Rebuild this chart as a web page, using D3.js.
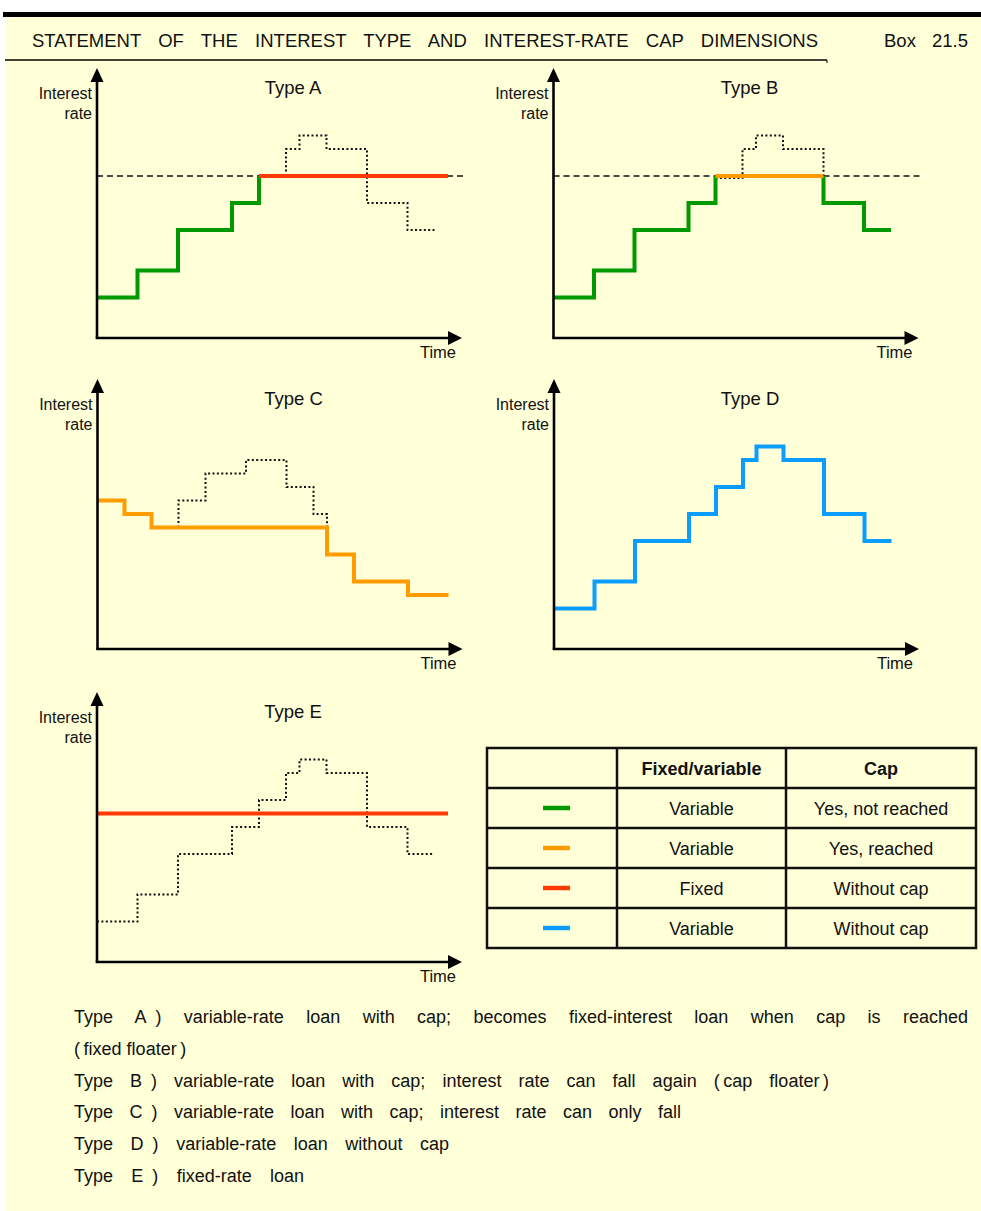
<!DOCTYPE html>
<html>
<head>
<meta charset="utf-8">
<script src="https://cdn.jsdelivr.net/npm/d3@7"></script>
<style>
  html, body { margin: 0; padding: 0; background: #ffffff; }
  svg { display: block; }
</style>
</head>
<body>
<svg id="chart" width="981" height="1211"></svg>
<script>
// ---------------- DATA ----------------
const headerTitle = "STATEMENT OF THE INTEREST TYPE AND INTEREST-RATE CAP DIMENSIONS";
const boxLabel = "Box 21.5";
const panelTitles = ["Type A", "Type B", "Type C", "Type D", "Type E"];
const yAxisLabel = ["Interest", "rate"];
const xAxisLabel = "Time";

// market (unconstrained) interest-rate path: step starts and levels
const marketTime = [0, 3, 6, 10, 12, 14, 15, 17, 20, 23, 25];
const marketRate = [3, 5, 8, 10, 12, 14, 15, 14, 10, 8, 8];
const capRate = 12;
const capEndTime = 27.2;

// Type A
const aGreenTime = [0, 3, 6, 10, 12];
const aGreenRate = [3, 5, 8, 10, 12];
const aRedTime = [12, 26];
const aRedRate = [12, 12];
const aDotTime = [14, 14, 15, 17, 20, 23, 25];
const aDotRate = [12, 14, 15, 14, 10, 8, 8];
// Type B
const bGreen1Time = [0, 3, 6, 10, 12];
const bGreen1Rate = [3, 5, 8, 10, 12];
const bOrangeTime = [12, 20];
const bOrangeRate = [12, 12];
const bGreen2Time = [20, 20, 23, 25];
const bGreen2Rate = [12, 10, 8, 8];
const bDotTime = [12, 14, 15, 17, 20];
const bDotRate = [12, 14, 15, 14, 12];
// Type C
const cOrangeTime = [0, 2, 4, 17, 19, 23, 26];
const cOrangeRate = [11, 10, 9, 7, 5, 4, 4];
const cDotTime = [6, 6, 8, 11, 14, 16, 17];
const cDotRate = [9, 11, 13, 14, 12, 10, 9];
// Type E
const eRedTime = [0, 26];
const eRedRate = [11, 11];

// Legend table
const legendHeader = ["", "Fixed/variable", "Cap"];
const legendKinds = ["Variable", "Variable", "Fixed", "Variable"];
const legendCaps = ["Yes, not reached", "Yes, reached", "Without cap", "Without cap"];
const legendKeys = ["green", "orange", "red", "blue"];

// Notes
const noteLines = [
  "Type A\u2002) variable-rate loan with cap; becomes fixed-interest loan when cap is reached",
  "(\u2009fixed floater\u2009)",
  "Type B\u2002) variable-rate loan with cap; interest rate can fall again (\u2009cap floater\u2009)",
  "Type C\u2002) variable-rate loan with cap; interest rate can only fall",
  "Type D\u2002) variable-rate loan without cap",
  "Type E\u2002) fixed-rate loan"
];

// ---------------- STYLE / LAYOUT ----------------
const colors = { green: "#009a00", orange: "#ff9c00", red: "#ff3a00", blue: "#0a9cff" };
const bg = "#ffffd8";
const font = "'Liberation Sans', Arial, sans-serif";
const origins = [[97, 338], [553.5, 338], [97.5, 649], [554, 649], [97, 962]];
const xLen = 365, yLen = 270;
const noteTargets = [968, 177, 829, 681, 449, 304];

const svg = d3.select("#chart");

// page background
svg.append("rect").attr("x", 5).attr("y", 16).attr("width", 976).attr("height", 1195).attr("fill", bg);
svg.append("rect").attr("x", 3).attr("y", 12).attr("width", 978).attr("height", 5).attr("fill", "#000");
svg.append("line").attr("x1", 5).attr("x2", 827).attr("y1", 60).attr("y2", 60)
  .attr("stroke", "#000").attr("stroke-width", 1.5);
svg.append("line").attr("x1", 827).attr("x2", 827).attr("y1", 60).attr("y2", 63)
  .attr("stroke", "#000").attr("stroke-width", 1);

function spreadText(sel, targetWidth) {
  const node = sel.node();
  const txt = sel.text();
  const n = (txt.match(/ /g) || []).length;
  const w = node.getComputedTextLength();
  if (n > 0) sel.attr("word-spacing", Math.max(0, (targetWidth - w) / n));
}

const hdr = svg.append("text").attr("x", 32).attr("y", 47)
  .attr("font-family", font).attr("font-size", 18.5).attr("fill", "#111").text(headerTitle);
spreadText(hdr, 818 - 32);
const box = svg.append("text").attr("x", 884).attr("y", 47)
  .attr("font-family", font).attr("font-size", 18.5).attr("fill", "#111").text(boxLabel);
spreadText(box, 968 - 884);

// ---------------- PANELS ----------------
function zip(t, r) { return t.map((d, i) => ({ t: d, r: r[i] })); }

const panelSeries = [
  [
    { data: zip([0, capEndTime], [capRate, capRate]), kind: "dash" },
    { data: zip(aDotTime, aDotRate), kind: "dot" },
    { data: zip(aGreenTime, aGreenRate), kind: "green" },
    { data: zip(aRedTime, aRedRate), kind: "red" }
  ],
  [
    { data: zip([0, capEndTime], [capRate, capRate]), kind: "dash" },
    { data: zip(bDotTime, bDotRate), kind: "dot", offset: 2 },
    { data: zip(bGreen1Time, bGreen1Rate), kind: "green" },
    { data: zip(bGreen2Time, bGreen2Rate), kind: "green" },
    { data: zip(bOrangeTime, bOrangeRate), kind: "orange" }
  ],
  [
    { data: zip(cDotTime, cDotRate), kind: "dot" },
    { data: zip(cOrangeTime, cOrangeRate), kind: "orange" }
  ],
  [
    { data: zip(marketTime, marketRate), kind: "blue" }
  ],
  [
    { data: zip(marketTime, marketRate), kind: "dot" },
    { data: zip(eRedTime, eRedRate), kind: "red" }
  ]
];

panelTitles.forEach((title, i) => {
  const [ox, oy] = origins[i];
  const x = d3.scaleLinear().domain([0, 27]).range([ox, ox + 27 * 13.5]);
  const y = d3.scaleLinear().domain([0, 20]).range([oy, oy - 20 * 13.5]);
  const g = svg.append("g");

  panelSeries[i].forEach(s => {
    const off = s.offset || 0;
    const line = d3.line().x(d => x(d.t)).y(d => y(d.r) + (d.r === capRate ? off : 0))
      .curve(d3.curveStepAfter);
    const p = g.append("path").attr("d", line(s.data)).attr("fill", "none");
    if (s.kind === "dash") {
      p.attr("stroke", "#111").attr("stroke-width", 1.5).attr("stroke-dasharray", "6,4");
    } else if (s.kind === "dot") {
      p.attr("stroke", "#111").attr("stroke-width", 2).attr("stroke-dasharray", "2,2.4");
    } else {
      p.attr("stroke", colors[s.kind]).attr("stroke-width", 4)
        .attr("stroke-linejoin", "miter").attr("stroke-linecap", "butt");
    }
  });

  // axes with arrowheads
  g.append("path").attr("d", `M${ox},${oy} L${ox},${oy - yLen + 12}`)
    .attr("stroke", "#000").attr("stroke-width", 2.6).attr("fill", "none");
  g.append("path").attr("d", `M${ox - 1.3},${oy} L${ox + xLen - 12},${oy}`)
    .attr("stroke", "#000").attr("stroke-width", 2.6).attr("fill", "none");
  g.append("path").attr("d", `M${ox},${oy - yLen} L${ox - 6.5},${oy - yLen + 14} L${ox + 6.5},${oy - yLen + 14} Z`)
    .attr("fill", "#000");
  g.append("path").attr("d", `M${ox + xLen},${oy} L${ox + xLen - 14},${oy - 7} L${ox + xLen - 14},${oy + 7} Z`)
    .attr("fill", "#000");

  g.append("text").attr("x", ox + 196).attr("y", oy - 244).attr("text-anchor", "middle")
    .attr("font-family", font).attr("font-size", 18.5).attr("fill", "#111").text(title);
  yAxisLabel.forEach((t, k) => {
    g.append("text").attr("x", ox - 5).attr("y", oy - 239 + k * 20).attr("text-anchor", "end")
      .attr("font-family", font).attr("font-size", 16).attr("fill", "#111").text(t);
  });
  g.append("text").attr("x", ox + 359).attr("y", oy + 20).attr("text-anchor", "end")
    .attr("font-family", font).attr("font-size", 16.5).attr("fill", "#111").text(xAxisLabel);
});

// ---------------- LEGEND TABLE ----------------
const tbl = svg.append("g");
const colX = [487, 617, 786, 976];
const rowY = [748, 788, 828, 868, 908, 948];
tbl.append("rect").attr("x", colX[0]).attr("y", rowY[0]).attr("width", colX[3] - colX[0])
  .attr("height", rowY[5] - rowY[0]).attr("fill", "none").attr("stroke", "#111").attr("stroke-width", 2.5);
[1, 2].forEach(c => tbl.append("line").attr("x1", colX[c]).attr("x2", colX[c]).attr("y1", rowY[0]).attr("y2", rowY[5])
  .attr("stroke", "#111").attr("stroke-width", 2.5));
[1, 2, 3, 4].forEach(r => tbl.append("line").attr("x1", colX[0]).attr("x2", colX[3]).attr("y1", rowY[r]).attr("y2", rowY[r])
  .attr("stroke", "#111").attr("stroke-width", 2.5));
legendHeader.forEach((h, c) => {
  if (!h) return;
  tbl.append("text").attr("x", (colX[c] + colX[c + 1]) / 2).attr("y", rowY[0] + 27)
    .attr("text-anchor", "middle").attr("font-family", font).attr("font-weight", "bold")
    .attr("font-size", 18).attr("fill", "#111").text(h);
});
legendKeys.forEach((k, r) => {
  const cy = (rowY[r + 1] + rowY[r + 2]) / 2;
  tbl.append("line").attr("x1", 543).attr("x2", 570).attr("y1", cy).attr("y2", cy)
    .attr("stroke", colors[k]).attr("stroke-width", 4.5);
  tbl.append("text").attr("x", (colX[1] + colX[2]) / 2).attr("y", cy + 7)
    .attr("text-anchor", "middle").attr("font-family", font).attr("font-size", 18)
    .attr("fill", "#111").text(legendKinds[r]);
  tbl.append("text").attr("x", (colX[2] + colX[3]) / 2).attr("y", cy + 7)
    .attr("text-anchor", "middle").attr("font-family", font).attr("font-size", 18)
    .attr("fill", "#111").text(legendCaps[r]);
});

// ---------------- NOTES ----------------
noteLines.forEach((t, i) => {
  const tx = svg.append("text").attr("x", 74).attr("y", 1023 + i * 31.8)
    .attr("font-family", font).attr("font-size", 18).attr("fill", "#111").text(t);
  spreadText(tx, noteTargets[i] - 74);
});
</script>
</body>
</html>
